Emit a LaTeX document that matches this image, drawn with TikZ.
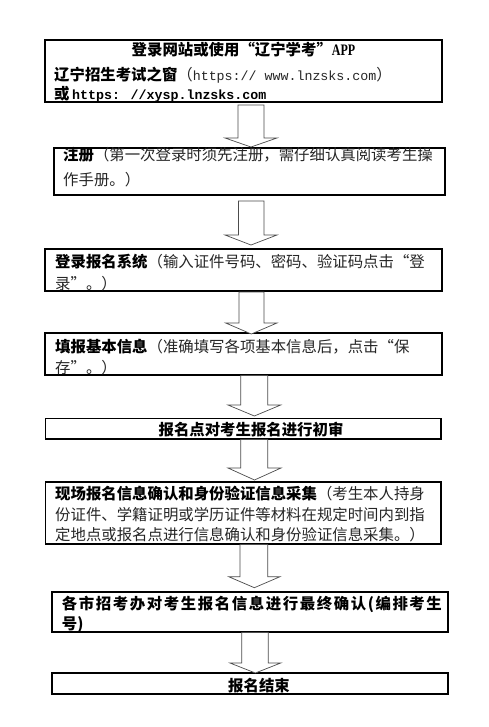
\documentclass[tikz,border=0pt]{standalone}
\usepackage{graphicx}
\usepackage{fontspec}
\setmainfont{Noto Sans CJK SC}
\newfontfamily\monofam{Liberation Mono}
\newfontfamily\seriffam{Liberation Serif}
\makeatletter
\newcommand\spreadline[2]{\hbox to #1{\@tfor\spr@x:=#2\do{\spr@x\hfil}\unskip}}
\makeatother
\newcommand\fs{\fontsize{15.4pt}{18pt}\selectfont}
\newcommand\ms{\monofam\fontsize{13.3pt}{16pt}\selectfont}
\definecolor{regtext}{gray}{0.15}
\tikzset{
  box/.style={draw=black, line width=1.1pt, inner sep=0pt, fill=white},
  blockarrow/.style={draw=black!70, line width=0.7pt, fill=white, line join=miter},
  txt/.style={inner sep=0pt, anchor=base west, font=\fs, text=regtext},
  ctxt/.style={inner sep=0pt, anchor=base, font=\fs, text=black},
}
\newcommand\blockarr[8]{%
  \draw[blockarrow] (#2,#4) -- (#3,#4) -- (#3,#5) -- (#7,#5) -- ({(#6+#7)/2},#8) -- (#6,#5) -- (#2,#5) -- cycle;
  \coordinate (#1) at ({(#6+#7)/2},#8);}
\newcommand\bk[1]{{\color{black}\bfseries #1}}
\begin{document}
\begin{tikzpicture}[x=1pt,y=-1pt]
\useasboundingbox (0,0) rectangle (488,727);
\fill[white] (0,0) rectangle (488,727);

% boxes
\node[box, minimum width=397pt, minimum height=62pt] (b1) at (243.5,71) {};
\node[box, minimum width=391pt, minimum height=47pt] (b2) at (249.5,171.5) {};
\node[box, minimum width=397pt, minimum height=42pt] (b3) at (243.5,270) {};
\node[box, minimum width=397pt, minimum height=42pt] (b4) at (243.5,354) {};
\node[box, minimum width=395.5pt, minimum height=20.5pt] (b5) at (243.25,428.75) {};
\node[box, minimum width=395.5pt, minimum height=62pt] (b6) at (243.25,513) {};
\node[box, minimum width=396pt, minimum height=40pt] (b7) at (250,612) {};
\node[box, minimum width=396pt, minimum height=21pt] (b8) at (250,683.5) {};

% block arrows
\blockarr{a1}{238}{264}{105}{138}{225}{277}{147}
\blockarr{a2}{238.5}{264}{201}{235}{225}{277}{245}
\blockarr{a3}{239}{264}{292}{323}{225.7}{277}{334}
\blockarr{a4}{240.7}{267.7}{375.5}{405}{228}{280.7}{416}
\blockarr{a5}{240.7}{267.7}{439.5}{468}{228}{281}{480}
\blockarr{a6}{240}{267.7}{544.5}{576.7}{228.7}{280}{587.7}
\blockarr{a7}{241.7}{268.3}{632.5}{663}{230}{280.7}{673}

% texts
\node[ctxt] (t11) at (243.5,56) {\bfseries 登录网站或使用“辽宁学考”\scalebox{0.75}[1]{\seriffam\bfseries\fontsize{16pt}{18pt}\selectfont APP}};
\node[txt] (t12) at (54,80.2) {\bk{辽宁招生考试之窗}（{\ms https:// www.lnzsks.com}）};
\node[txt] (t13) at (54,99.5) {\bk{或\,{\ms\bfseries https: //xysp.lnzsks.com}}};

\node[txt] (t21) at (63,160.2) {\bk{注册}（第一次登录时须先注册，需仔细认真阅读考生操};
\node[txt] (t22) at (63,186) {作手册。）};

\node[txt] (t31) at (55,267.6) {\bk{登录报名系统}（输入证件号码、密码、验证码点击“登};
\node[txt] (t32) at (55,289) {录”。）};

\node[txt] (t41) at (55,352) {\bk{填报基本信息}（准确填写各项基本信息后，点击“保};
\node[txt] (t42) at (55,373) {存”。）};

\node[ctxt] (t51) at (251,435.2) {\bfseries 报名点对考生报名进行初审};

\node[txt] (t61) at (55,499.2) {\bk{现场报名信息确认和身份验证信息采集}（考生本人持身};
\node[txt] (t62) at (55,520.9) {份证件、学籍证明或学历证件等材料在规定时间内到指};
\node[txt] (t63) at (55,540) {定地点或报名点进行信息确认和身份验证信息采集。）};

\node[txt] (t71) at (61.7,609.2) {\bk{\spreadline{380pt}{各市招考办对考生报名信息进行最终确认(编排考生}}};
\node[txt] (t72) at (61.7,629.5) {\bk{号)}};

\node[ctxt] (t81) at (259,691) {\bfseries 报名结束};
\end{tikzpicture}
\end{document}
